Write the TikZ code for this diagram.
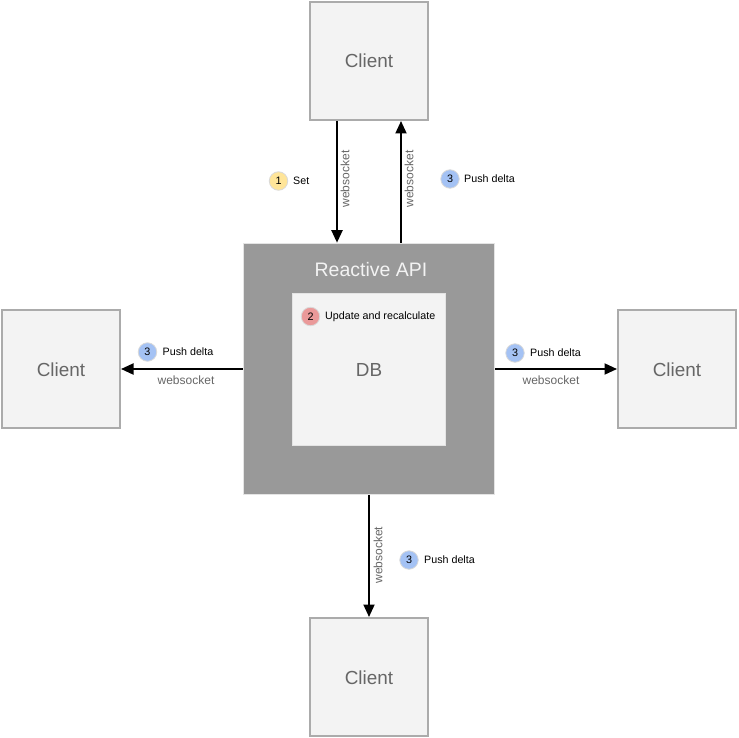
\documentclass[tikz,border=0pt]{standalone}
\usepackage{fontspec}
\setmainfont{Liberation Sans}
\usetikzlibrary{arrows.meta}
\definecolor{boxfill}{HTML}{F3F3F3}
\definecolor{boxline}{HTML}{ABABAB}
\definecolor{apifill}{HTML}{999999}
\definecolor{softline}{HTML}{E4E4E4}
\definecolor{greytext}{HTML}{666666}
\definecolor{stepyellow}{HTML}{FFE599}
\definecolor{stepblue}{HTML}{A4C2F4}
\definecolor{stepred}{HTML}{EA9999}
\definecolor{stepline}{HTML}{D9D9D9}
\newcommand{\midtext}[1]{\raisebox{-7pt}[0pt][0pt]{#1}}
\tikzset{
  client/.style={draw=boxline,fill=boxfill,line width=2pt,minimum size=118pt,inner sep=0pt,text=greytext,font=\fontsize{18.9}{20}\selectfont},
  conn/.style={line width=2pt,-{Triangle[length=12.5pt,width=11pt]},shorten >=0pt},
  wslabel/.style={text=greytext,font=\fontsize{12}{14}\selectfont,inner sep=0pt},
  badge/.style={circle,draw=stepline,line width=0.8pt,minimum size=18.5pt,inner sep=0pt,font=\fontsize{10.8}{12}\selectfont},
  badgetext/.style={anchor=west,inner sep=0pt,font=\fontsize{10.7}{12}\selectfont}
}
\begin{document}
\begin{tikzpicture}[x=1pt,y=-1pt]
\useasboundingbox (0,0) rectangle (738,738);
\node[client] (ctop) at (369,61) {\midtext{Client}};
\node[client] (cleft) at (61,369) {\midtext{Client}};
\node[client] (cright) at (677,369) {\midtext{Client}};
\node[client] (cbottom) at (369,677) {\midtext{Client}};
\node[draw=softline,fill=apifill,line width=1.6pt,minimum size=251pt,inner sep=0pt] (api) at (369,369) {};
\node[draw=softline,fill=boxfill,line width=1pt,minimum width=153pt,minimum height=152pt,inner sep=0pt,text=greytext,font=\fontsize{18.9}{20}\selectfont] (db) at (369,369) {\midtext{DB}};
\node[text=boxfill,inner sep=0pt,font=\fontsize{19.5}{20}\selectfont] (apilabel) at (371,270) {Reactive API};
\coordinate (setx) at (337,0);
\coordinate (pushx) at (401,0);
\draw[conn] (setx |- ctop.south) -- (setx |- api.north);
\draw[conn] (pushx |- api.north) -- (pushx |- ctop.south);
\draw[conn] (api.west) -- (cleft.east);
\draw[conn] (api.east) -- (cright.west);
\draw[conn] (api.south) -- (cbottom.north);
\node[wslabel,rotate=90] (ws1) at (345,179) {websocket};
\node[wslabel,rotate=90] (ws2) at (409,179) {websocket};
\node[wslabel] (ws3) at (186,380) {websocket};
\node[wslabel] (ws4) at (551,380) {websocket};
\node[wslabel,rotate=90] (ws5) at (378,555) {websocket};
\node[badge,fill=stepyellow] (b1) at (278.5,181) {1};
\node[badgetext] (t1) at (293,180.5) {Set};
\node[badge,fill=stepblue] (b2) at (450,179) {3};
\node[badgetext] (t2) at (464,179) {Push delta};
\node[badge,fill=stepred] (b3) at (310.5,316.5) {2};
\node[badgetext] (t3) at (325,316.5) {Update and recalculate};
\node[badge,fill=stepblue] (b4) at (147.5,352) {3};
\node[badgetext] (t4) at (162.5,352) {Push delta};
\node[badge,fill=stepblue] (b5) at (515,353) {3};
\node[badgetext] (t5) at (530,353) {Push delta};
\node[badge,fill=stepblue] (b6) at (409,560) {3};
\node[badgetext] (t6) at (424,559.5) {Push delta};
\end{tikzpicture}
\end{document}
